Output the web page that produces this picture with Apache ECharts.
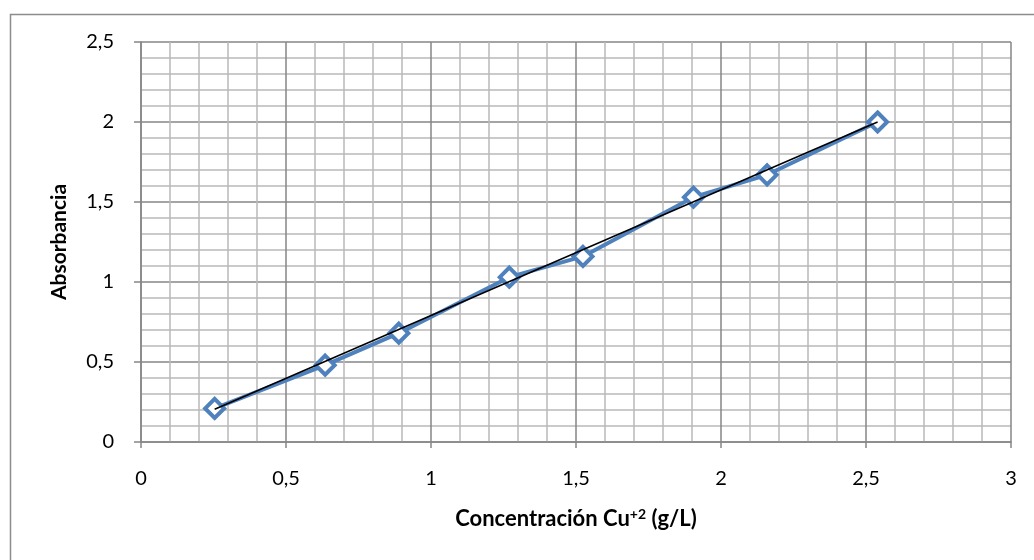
<!DOCTYPE html>
<html>
<head>
<meta charset="utf-8">
<script src="https://cdn.jsdelivr.net/npm/echarts@6/dist/echarts.min.js"></script>
<style>
  html, body { margin: 0; padding: 0; background: #fff; }
  #main { width: 1034px; height: 560px; }
</style>
</head>
<body>
<div id="main"></div>
<script>
  // concentracion (g/L) y absorbancia
  var concentracion = [0.254, 0.635, 0.889, 1.27, 1.524, 1.905, 2.159, 2.54];
  var absorbancia = [0.21, 0.48, 0.68, 1.03, 1.16, 1.53, 1.67, 2.0];
  // extremos de la linea de tendencia
  var tendenciaX = [0.254, 2.54];
  var tendenciaY = [0.205, 2.0];

  var fuente = 'Lato, "Open Sans", sans-serif';
  var coma = function (v) { return String(v).replace('.', ','); };

  var puntos = concentracion.map(function (c, i) { return [c, absorbancia[i]]; });
  var tendencia = tendenciaX.map(function (c, i) { return [c, tendenciaY[i]]; });

  var myChart = echarts.init(document.getElementById('main'));
  var option = {
    backgroundColor: '#fff',
    animation: false,
    graphic: [{
      type: 'rect',
      left: 8, top: 12,
      shape: { width: 1040, height: 560 },
      style: { fill: 'none', stroke: '#8c8c8c', lineWidth: 1.5 },
      silent: true
    }],
    grid: { left: 141, top: 42, width: 870, height: 400 },
    xAxis: {
      type: 'value',
      min: 0, max: 3, interval: 0.5,
      name: '{b|Concentración Cu}{s|+2}{b| (g/L)}',
      nameLocation: 'middle',
      nameGap: 65,
      nameTextStyle: {
        rich: {
          b: { fontFamily: fuente, fontSize: 22, fontWeight: 'bold', color: '#000' },
          s: { fontFamily: fuente, fontSize: 14, fontWeight: 'bold', color: '#000', verticalAlign: 'top', padding: [0, 0, 9, 0] }
        }
      },
      axisLine: { show: true, lineStyle: { color: '#868686', width: 1.5 } },
      axisTick: { show: true, inside: false, length: 6, lineStyle: { color: '#868686', width: 1.5 } },
      axisLabel: { formatter: coma, fontFamily: fuente, fontSize: 20, color: '#000', margin: 27 },
      splitLine: { show: true, lineStyle: { color: '#868686', width: 1.5 } },
      minorTick: { show: false, splitNumber: 5 },
      minorSplitLine: { show: true, lineStyle: { color: '#b9b9b9', width: 1.5 } }
    },
    yAxis: {
      type: 'value',
      min: 0, max: 2.5, interval: 0.5,
      name: 'Absorbancia',
      nameLocation: 'middle',
      nameGap: 71,
      nameTextStyle: { fontFamily: fuente, fontSize: 21, fontWeight: 'bold', color: '#000' },
      axisLine: { show: true, lineStyle: { color: '#868686', width: 1.5 } },
      axisTick: { show: true, inside: false, length: 7, lineStyle: { color: '#868686', width: 1.5 } },
      axisLabel: { formatter: coma, fontFamily: fuente, fontSize: 20, color: '#000', margin: 27 },
      splitLine: { show: true, lineStyle: { color: '#868686', width: 1.5 } },
      minorTick: { show: false, splitNumber: 5 },
      minorSplitLine: { show: true, lineStyle: { color: '#b9b9b9', width: 1.5 } }
    },
    series: [{
      type: 'line',
      data: puntos,
      symbol: 'diamond',
      symbolSize: 19,
      lineStyle: { color: '#4f81bd', width: 4 },
      itemStyle: { color: '#fff', borderColor: '#4f81bd', borderWidth: 4 },
      z: 3
    }, {
      type: 'line',
      data: tendencia,
      symbol: 'none',
      lineStyle: { color: '#000', width: 1.5 },
      z: 4
    }]
  };
  myChart.setOption(option);
</script>
</body>
</html>
